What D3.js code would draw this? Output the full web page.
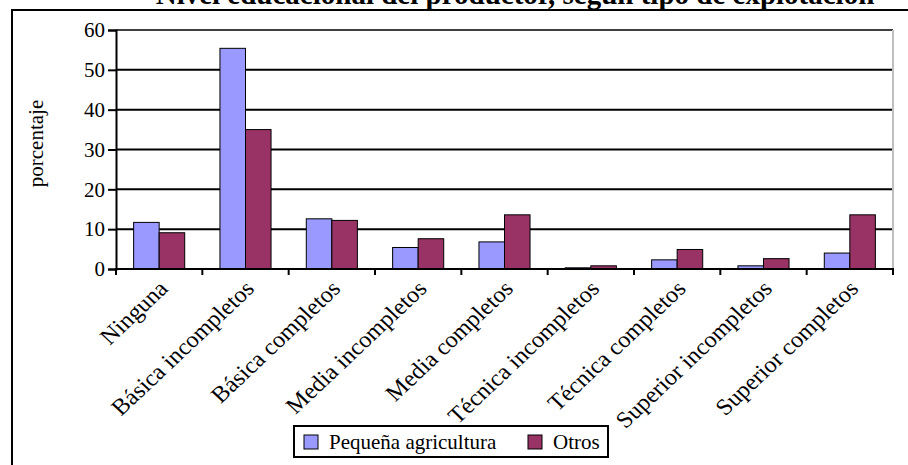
<!DOCTYPE html>
<html>
<head>
<meta charset="utf-8">
<script src="https://cdn.jsdelivr.net/npm/d3@7"></script>
<style>
  html, body { margin: 0; padding: 0; background: #fff; }
  svg { display: block; }
</style>
</head>
<body>
<svg id="chart" width="908" height="465"></svg>
<script>
// Nivel educacional del productor (%), por tipo de explotación
const categories = [
  "Ninguna", "Básica incompletos", "Básica completos", "Media incompletos",
  "Media completos", "Técnica incompletos", "Técnica completos",
  "Superior incompletos", "Superior completos"
];
const seriesNames = ["Pequeña agricultura", "Otros"];
const pequenaAgricultura = [11.7, 55.4, 12.6, 5.4, 6.8, 0.3, 2.3, 0.8, 4.0];
const otros = [9.1, 35.0, 12.2, 7.6, 13.6, 0.8, 4.9, 2.6, 13.6];
const yTicks = [0, 10, 20, 30, 40, 50, 60];
const title = "Nivel educacional del productor, según tipo de explotación";
const yLabel = "porcentaje";

const colors = { "Pequeña agricultura": "#9999FF", "Otros": "#993366" };
const SERIF = "Liberation Serif";

const svg = d3.select("#chart");

// outer chart frame (runs past the right and bottom edges)
svg.append("rect")
  .attr("x", 12).attr("y", 10).attr("width", 1000).attr("height", 1000)
  .attr("fill", "none").attr("stroke", "#000").attr("stroke-width", 2);

// title, partly clipped at the top edge
svg.append("text")
  .attr("x", 515).attr("y", 4)
  .attr("text-anchor", "middle")
  .style("font-family", SERIF)
  .style("font-size", "29px").style("font-weight", "bold")
  .text(title);

const plot = { left: 116, right: 893, top: 30, bottom: 269 };

const x = d3.scaleBand().domain(categories).range([plot.left, plot.right]).padding(0);
const xInner = d3.scaleBand().domain(seriesNames).range([0, x.bandwidth()])
  .paddingInner(0).paddingOuter(0.69);
const y = d3.scaleLinear().domain([0, 60]).range([plot.bottom, plot.top]);

// horizontal gridlines
svg.append("g").selectAll("line")
  .data(yTicks.filter(t => t > 0))
  .join("line")
  .attr("x1", plot.left).attr("x2", plot.right)
  .attr("y1", d => y(d)).attr("y2", d => y(d))
  .attr("stroke", d => d === 60 ? "#404040" : "#000")
  .attr("stroke-width", 2);

// right edge of the plot area
svg.append("line")
  .attr("x1", plot.right).attr("x2", plot.right)
  .attr("y1", plot.top).attr("y2", plot.bottom)
  .attr("stroke", "#c0c0c0").attr("stroke-width", 2);

// bars
const rows = categories.map((c, i) => ({
  cat: c,
  vals: [
    { s: seriesNames[0], v: pequenaAgricultura[i] },
    { s: seriesNames[1], v: otros[i] }
  ]
}));

svg.append("g").selectAll("g")
  .data(rows)
  .join("g")
  .attr("transform", d => `translate(${x(d.cat)},0)`)
  .selectAll("rect")
  .data(d => d.vals)
  .join("rect")
  .attr("x", d => xInner(d.s))
  .attr("y", d => y(d.v))
  .attr("width", xInner.bandwidth())
  .attr("height", d => y(0) - y(d.v))
  .attr("fill", d => colors[d.s])
  .attr("stroke", "#000").attr("stroke-width", 1);

// y axis
const yAxis = d3.axisLeft(y).tickValues(yTicks).tickSize(8).tickPadding(3).tickFormat(d3.format("d"));
const gy = svg.append("g").attr("transform", `translate(${plot.left},0)`).call(yAxis);
gy.attr("font-family", null).attr("font-size", null);
gy.select(".domain").attr("stroke", "#000").attr("stroke-width", 2);
gy.selectAll(".tick line").attr("stroke", "#000").attr("stroke-width", 2);
gy.selectAll(".tick text")
  .style("font-family", SERIF)
  .style("font-size", "21px")
  .attr("fill", "#000");

// x axis line and category boundary ticks
svg.append("line")
  .attr("x1", plot.left - 1).attr("x2", plot.right + 1)
  .attr("y1", plot.bottom).attr("y2", plot.bottom)
  .attr("stroke", "#000").attr("stroke-width", 2);
const boundaries = categories.map(c => x(c)).concat([plot.right]);
svg.append("g").selectAll("line")
  .data(boundaries)
  .join("line")
  .attr("x1", d => d).attr("x2", d => d)
  .attr("y1", plot.bottom).attr("y2", plot.bottom + 6)
  .attr("stroke", "#000").attr("stroke-width", 2);

// rotated category labels
svg.append("g").selectAll("text")
  .data(categories)
  .join("text")
  .attr("transform", d => `translate(${x(d) + x.bandwidth() / 2 + 10},${plot.bottom + 21}) scale(1.06,1) rotate(-45)`)
  .attr("text-anchor", "end")
  .style("font-family", SERIF)
  .style("font-size", "23px")
  .text(d => d);

// y axis title
svg.append("text")
  .attr("transform", `translate(43,${(plot.top + plot.bottom) / 2 - 6}) rotate(-90)`)
  .attr("text-anchor", "middle")
  .style("font-family", SERIF)
  .style("font-size", "21px")
  .text(yLabel);

// legend
const legend = svg.append("g").attr("transform", "translate(294,426)");
legend.append("rect")
  .attr("width", 314).attr("height", 31)
  .attr("fill", "#fff").attr("stroke", "#000").attr("stroke-width", 2);
const legendItems = [
  { s: seriesNames[0], x: 10 },
  { s: seriesNames[1], x: 234 }
];
legendItems.forEach(item => {
  legend.append("rect")
    .attr("x", item.x).attr("y", 9).attr("width", 14).attr("height", 14)
    .attr("fill", colors[item.s]).attr("stroke", "#000").attr("stroke-width", 1);
  legend.append("text")
    .attr("x", item.x + 25).attr("y", 23)
    .style("font-family", SERIF)
    .style("font-size", "21px")
    .text(item.s);
});
</script>
</body>
</html>
